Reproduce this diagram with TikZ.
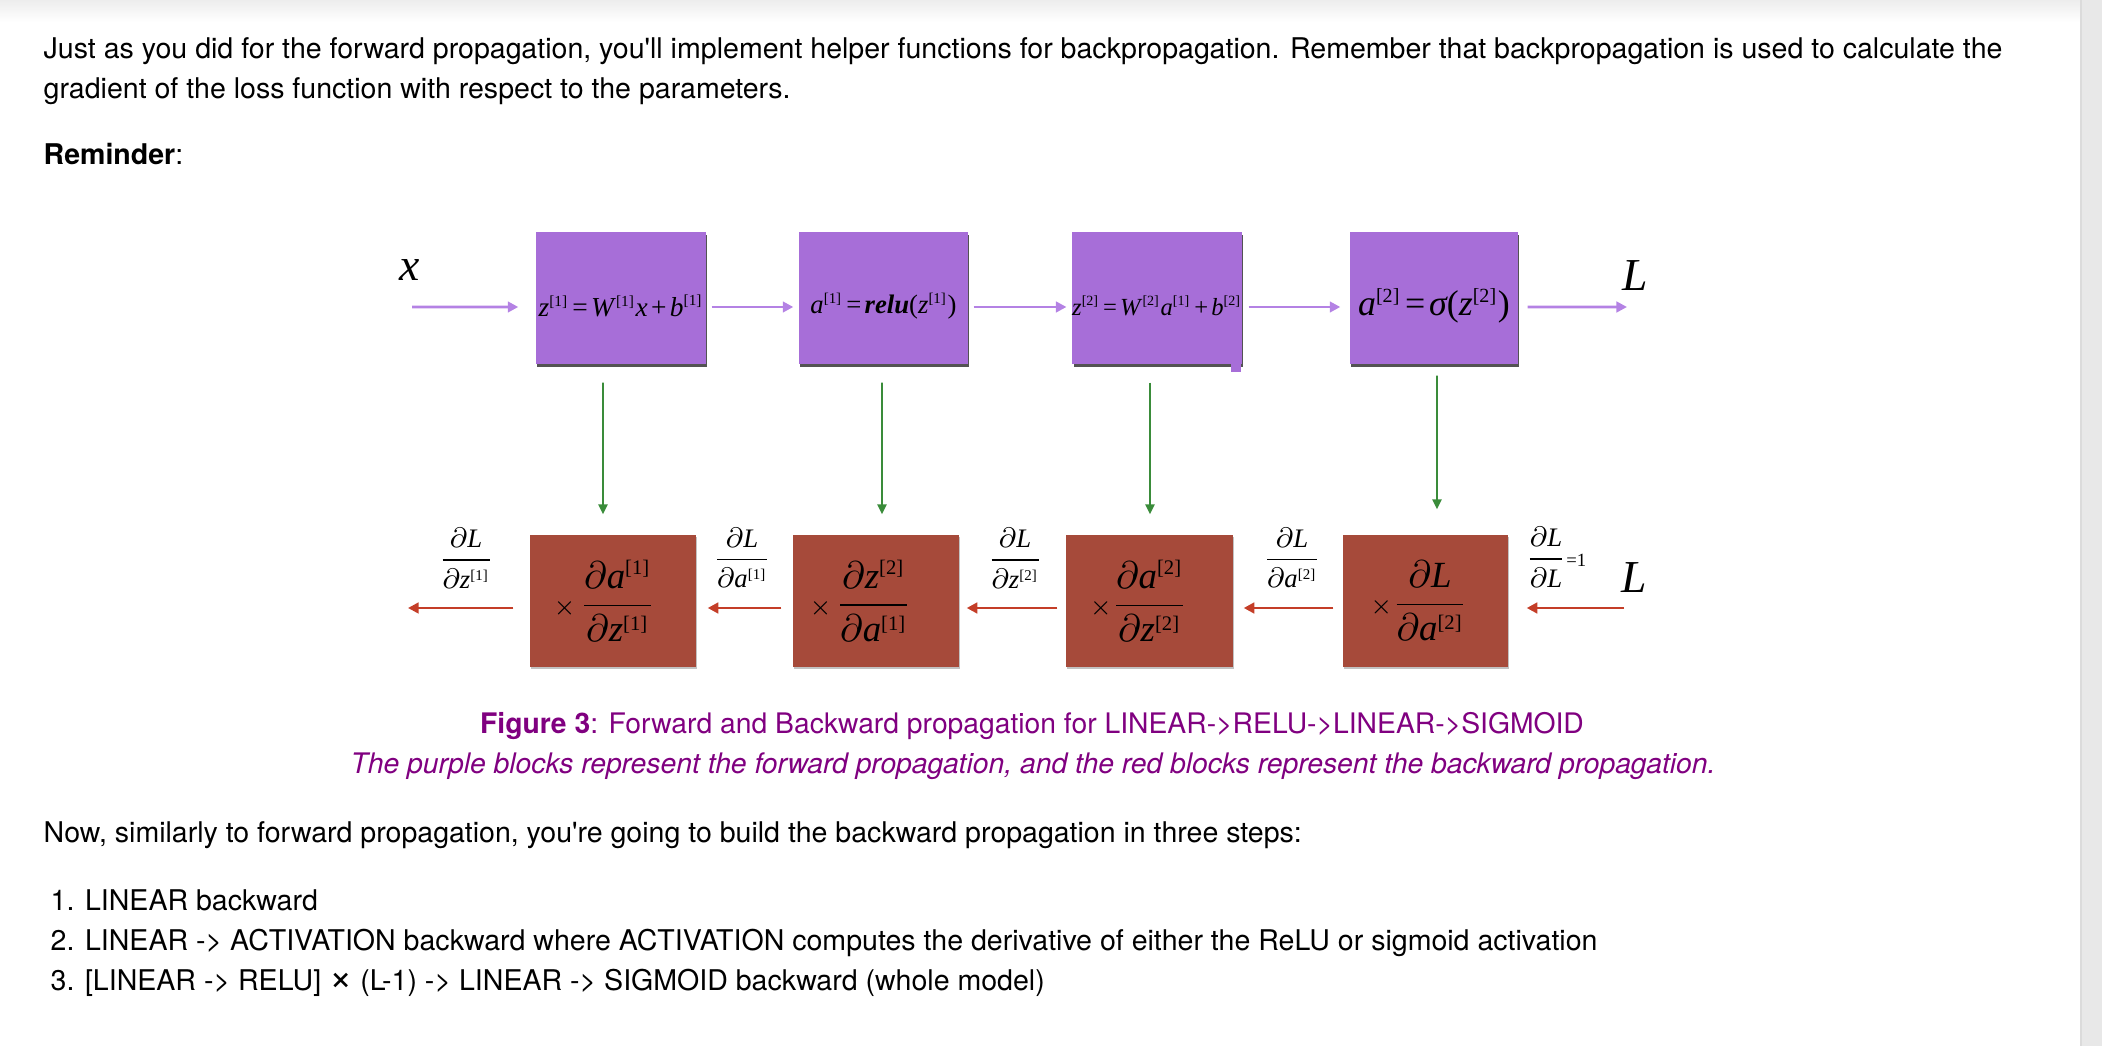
\documentclass[tikz,border=0pt]{standalone}
\usepackage{amsmath, amssymb}
\usepackage[no-math]{fontspec}
\setmainfont{TeX Gyre Heros}
\newfontfamily\timesfont{Liberation Serif}
\usepackage{xcolor}
\usepackage{tikz}
\usetikzlibrary{positioning, arrows.meta, shadows}

\definecolor{fwdfill}{RGB}{167,110,216}
\definecolor{fwdline}{RGB}{180,130,228}
\definecolor{bwdfill}{RGB}{166,74,58}
\definecolor{bwdline}{RGB}{196,62,40}
\definecolor{gradline}{RGB}{58,140,58}
\definecolor{capcolor}{RGB}{128,0,128}

% Times-like letters inside the formulas
\newcommand{\tv}[1]{\text{\timesfont\itshape #1}}
\newcommand{\tn}[1]{\text{\timesfont #1}}
\newcommand{\lay}[1]{^{\text{\timesfont\scalebox{0.8}{[#1]}}}}
\newcommand{\teq}{\mkern2mu\tn{=}\mkern2mu}
\newcommand{\tplus}{\mkern2mu\tn{+}\mkern2mu}
\newcommand{\sinktext}[1]{\raisebox{-0.08cm}[\height][\depth]{#1}}
\newcommand{\padright}[1]{\rule{#1}{0pt}}

\tikzset{
  fwdbox/.style={fill=fwdfill, minimum height=1.32cm, inner sep=0pt,
    drop shadow={shadow xshift=0.4pt, shadow yshift=-0.8pt, fill=black!75, opacity=0.9},
    font=\fontsize{7.8}{9}\selectfont},
  bwdbox/.style={fill=bwdfill, minimum height=1.32cm, inner sep=0pt,
    drop shadow={shadow xshift=0.3pt, shadow yshift=-0.6pt, fill=black!40, opacity=0.6},
    font=\fontsize{10.5}{12}\selectfont},
  fwdarrow/.style={-{Triangle[length=3pt,width=3pt]}, line width=0.8pt, fwdline},
  bwdarrow/.style={-{Triangle[length=3pt,width=3pt]}, line width=0.75pt, bwdline},
  gradarrow/.style={-{Triangle[length=2.8pt,width=2.6pt]}, line width=0.55pt, gradline},
  bodytext/.style={anchor=base west, inner sep=0pt, font=\fontsize{8.12}{9.6}\selectfont},
  captext/.style={anchor=base, inner sep=0pt, text=capcolor, font=\fontsize{8.05}{9.6}\selectfont},
  dlabel/.style={inner sep=0pt, font=\fontsize{7.6}{9}\selectfont},
  biglabel/.style={inner sep=0pt, font=\fontsize{13}{14}\selectfont}
}

\begin{document}
\begin{tikzpicture}[x=1cm, y=-1cm]
    \useasboundingbox (0,0) rectangle (21.02,10.46);

    % Page background
    \shade[top color=black!7, bottom color=white] (0,0) rectangle (20.80,0.22);
    \fill[black!9] (20.80,0) rectangle (21.02,10.46);
    \draw[black!14, line width=0.6pt] (20.81,0) -- (20.81,10.46);

    % Text above
    \node[bodytext] (intro1) at (0.43,0.59) {Just as you did for the forward propagation, you\textquotesingle ll implement helper functions for backpropagation. Remember that backpropagation is used to calculate the};
    \node[bodytext] (intro2) at (0.43,0.99) {gradient of the loss function with respect to the parameters.};
    \node[bodytext] (remind) at (0.43,1.65) {\textbf{Reminder}:};

    % Forward blocks
    \node[fwdbox, minimum width=1.70cm] (fz1) at (6.21,2.98) {\sinktext{$\tv{z}\lay{1}\teq\tv{W\/}\lay{1}\tv{x}\tplus\tv{b}\lay{1}$}};
    \node[fwdbox, minimum width=1.69cm, font=\fontsize{7.6}{9}\selectfont] (fa1) at (8.835,2.98) {\sinktext{$\tv{a}\lay{1}\teq\text{\timesfont\bfseries\itshape relu}\tn{(}\tv{z}\lay{1}\tn{)}$}};
    \node[fwdbox, minimum width=1.68cm, font=\fontsize{7.0}{9}\selectfont] (fz2) at (11.57,2.98) {\sinktext{$\tv{z}\lay{2}\teq\tv{W\/}\lay{2}\tv{a}\lay{1}\tplus\tv{b}\lay{2}$}};
    \node[fwdbox, minimum width=1.68cm, font=\fontsize{10.2}{11}\selectfont] (fa2) at (14.34,2.98) {\sinktext{$\tv{a}\lay{2}\teq\tv{σ}\tn{(}\tv{z}\lay{2}\tn{)}$}};
    \fill[fwdfill] (12.31,3.60) rectangle (12.41,3.72);

    % Backward blocks
    \node[bwdbox, minimum width=1.66cm] (bz1) at (6.13,6.01) {${\scriptstyle\times}\mkern2mu\dfrac{\partial\tv{a}\lay{1}}{\partial\tv{z}\lay{1}}$\padright{0.17cm}};
    \node[bwdbox, minimum width=1.66cm] (ba1) at (8.76,6.01) {${\scriptstyle\times}\mkern2mu\dfrac{\partial\tv{z}\lay{2}}{\partial\tv{a}\lay{1}}$\padright{0.31cm}};
    \node[bwdbox, minimum width=1.67cm] (bz2) at (11.495,6.01) {${\scriptstyle\times}\dfrac{\partial\tv{a}\lay{2}}{\partial\tv{z}\lay{2}}$\padright{0.22cm}};
    \node[bwdbox, minimum width=1.65cm] (ba2) at (14.255,6.01) {${\scriptstyle\times}\dfrac{\partial\tv{L}}{\partial\tv{a}\lay{2}}$\padright{0.13cm}};

    % Input and output
    \node[biglabel] (xin) at (4.10,2.70) {$\tv{x}$};
    \node[biglabel] (Lout) at (16.35,2.76) {$\tv{L}$};
    \node[biglabel] (Lin) at (16.34,5.78) {$\tv{L}$};
    \coordinate (instart) at (4.12,3.07);
    \coordinate (outend) at (16.27,3.07);
    \coordinate (dzend) at (4.08,6.08);
    \coordinate (dLstart) at (16.24,6.08);

    % Forward arrows
    \draw[fwdarrow, shorten >=0.17cm] (instart) -- ([yshift=-0.09cm]fz1.west);
    \draw[fwdarrow, shorten <=0.05cm, shorten >=0.05cm] ([yshift=-0.09cm]fz1.east) -- ([yshift=-0.09cm]fa1.west);
    \draw[fwdarrow, shorten <=0.05cm, shorten >=0.05cm] ([yshift=-0.09cm]fa1.east) -- ([yshift=-0.09cm]fz2.west);
    \draw[fwdarrow, shorten <=0.06cm, shorten >=0.09cm] ([yshift=-0.09cm]fz2.east) -- ([yshift=-0.09cm]fa2.west);
    \draw[fwdarrow, shorten <=0.09cm] ([yshift=-0.09cm]fa2.east) -- (outend);

    % Cache arrows
    \draw[gradarrow, shorten <=0.18cm, shorten >=0.20cm] ([xshift=-0.18cm]fz1.south) -- ([xshift=-0.10cm]bz1.north);
    \draw[gradarrow, shorten <=0.18cm, shorten >=0.20cm] ([xshift=-0.015cm]fa1.south) -- ([xshift=0.06cm]ba1.north);
    \draw[gradarrow, shorten <=0.18cm, shorten >=0.20cm] ([xshift=-0.07cm]fz2.south) -- ([xshift=0.005cm]bz2.north);
    \draw[gradarrow, shorten <=0.11cm, shorten >=0.25cm] ([xshift=0.03cm]fa2.south) -- ([xshift=0.115cm]ba2.north);

    % Backward arrows
    \draw[bwdarrow, shorten >=0.18cm] (dLstart) -- ([yshift=-0.07cm]ba2.east);
    \draw[bwdarrow, shorten <=0.09cm, shorten >=0.10cm] ([yshift=-0.07cm]ba2.west) -- ([yshift=-0.07cm]bz2.east);
    \draw[bwdarrow, shorten <=0.08cm, shorten >=0.07cm] ([yshift=-0.07cm]bz2.west) -- ([yshift=-0.07cm]ba1.east);
    \draw[bwdarrow, shorten <=0.11cm, shorten >=0.11cm] ([yshift=-0.07cm]ba1.west) -- ([yshift=-0.07cm]bz1.east);
    \draw[bwdarrow, shorten <=0.16cm] ([yshift=-0.07cm]bz1.west) -- (dzend);

    % Gradient labels
    \node[dlabel] (gz1) at (4.66,5.58) {$\dfrac{\partial\tv{L}}{\partial\tv{z}\lay{1}}$};
    \node[dlabel] (ga1) at (7.42,5.58) {$\dfrac{\partial\tv{L}}{\partial\tv{a}\lay{1}}$};
    \node[dlabel] (gz2) at (10.15,5.58) {$\dfrac{\partial\tv{L}}{\partial\tv{z}\lay{2}}$};
    \node[dlabel] (ga2) at (12.92,5.58) {$\dfrac{\partial\tv{L}}{\partial\tv{a}\lay{2}}$};
    \node[dlabel] (gL) at (15.56,5.57) {$\dfrac{\partial\tv{L}}{\partial\tv{L}}{\scriptstyle\tn{=}\tn{1}}$};

    % Caption
    \node[captext] (cap1) at (10.32,7.34) {\textbf{Figure 3}: Forward and Backward propagation for LINEAR->RELU->LINEAR->SIGMOID};
    \node[captext] (cap2) at (10.33,7.74) {\textit{The purple blocks represent the forward propagation, and the red blocks represent the backward propagation.}};

    % Text below
    \node[bodytext] (steps) at (0.43,8.43) {Now, similarly to forward propagation, you\textquotesingle re going to build the backward propagation in three steps:};
    \node[bodytext] (step1) at (0.50,9.10) {1. LINEAR backward};
    \node[bodytext] (step2) at (0.50,9.50) {2. LINEAR -> ACTIVATION backward where ACTIVATION computes the derivative of either the ReLU or sigmoid activation};
    \node[bodytext] (step3) at (0.50,9.90) {3. [LINEAR -> RELU] \scalebox{1.4}{×} (L-1) -> LINEAR -> SIGMOID backward (whole model)};
\end{tikzpicture}
\end{document}
